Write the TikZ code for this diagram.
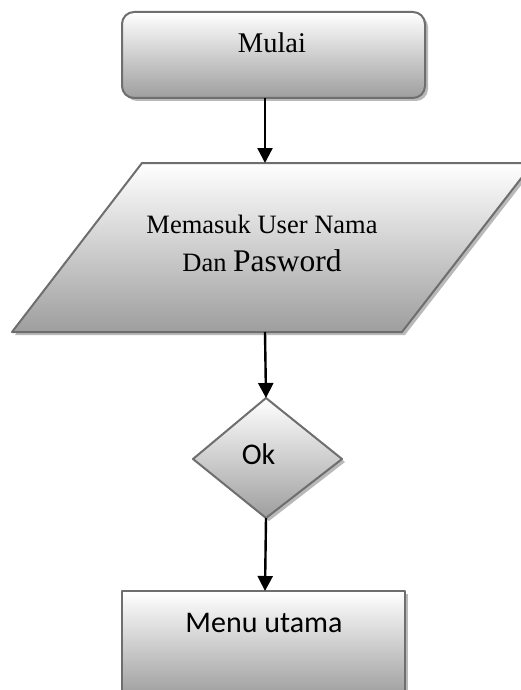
\documentclass[tikz,border=0pt]{standalone}
\usepackage{fontspec}
\setmainfont{Liberation Serif}
\newfontfamily\carl{Carlito}
\usetikzlibrary{arrows.meta}
\definecolor{edgegray}{RGB}{110,110,110}
\definecolor{shadegray}{RGB}{158,158,158}
\definecolor{shadowgray}{RGB}{185,185,185}
\tikzset{
  shapebox/.style={draw=edgegray, line width=2pt, top color=white, bottom color=shadegray, line join=round},
  shadowbox/.style={fill=shadowgray, draw=none},
  flowarrow/.style={line width=2.4pt, black, -{Triangle[length=15pt,width=15pt]}},
  serifsmall/.style={font=\fontsize{26.5}{30}\selectfont, anchor=base, inner sep=0pt},
  sanstext/.style={font=\carl\fontsize{30}{34}\selectfont, anchor=base, inner sep=0pt},
}
\begin{document}
\begin{tikzpicture}[x=1pt,y=1pt]
\useasboundingbox (0,0) rectangle (521,-690);
\clip (0,0) rectangle (521,-690);
% Mulai
\fill[shadowbox, rounded corners=12pt] (125,-15) rectangle (428,-101);
\path[shapebox, rounded corners=12pt] (122,-12) rectangle (425,-98);
\node[serifsmall, font=\fontsize{28.5}{32}\selectfont] (mulai) at (272,-53) {Mulai};
\coordinate (mulaiout) at (265,-98);
% Parallelogram
\fill[shadowbox] (145,-166) -- (536,-166) -- (405,-335) -- (15,-335) -- cycle;
\path[shapebox] (142,-163) -- (533,-163) -- (402,-332) -- (12,-332) -- cycle;
\node[serifsmall] (inp1) at (262,-233) {Memasuk User Nama};
\node[anchor=base, inner sep=0pt, font=\fontsize{26.5}{30}\selectfont] (inp2) at (262,-271) {Dan\hspace{6.6pt}{\fontsize{31.5}{36}\selectfont Pasword}};
\coordinate (inpin) at (265,-163);
\coordinate (inpout) at (265,-332);
% Diamond
\fill[shadowbox] (269,-401) -- (345,-462) -- (269,-521) -- (196,-462) -- cycle;
\path[shapebox] (266,-398) -- (342,-459) -- (266,-518) -- (193,-459) -- cycle;
\node[sanstext] (ok) at (258.5,-464) {Ok};
\coordinate (okin) at (266,-398);
\coordinate (okout) at (266,-518);
% Menu utama
\fill[shadowbox] (125,-594) rectangle (408,-700);
\path[shapebox] (122,-591) rectangle (405,-697);
\node[sanstext] (menu) at (264,-632) {Menu utama};
\coordinate (menuin) at (265,-591);
% Arrows
\draw[flowarrow] (mulaiout) -- (inpin);
\draw[flowarrow] (inpout) -- (okin);
\draw[flowarrow] (okout) -- (menuin);
\end{tikzpicture}
\end{document}
